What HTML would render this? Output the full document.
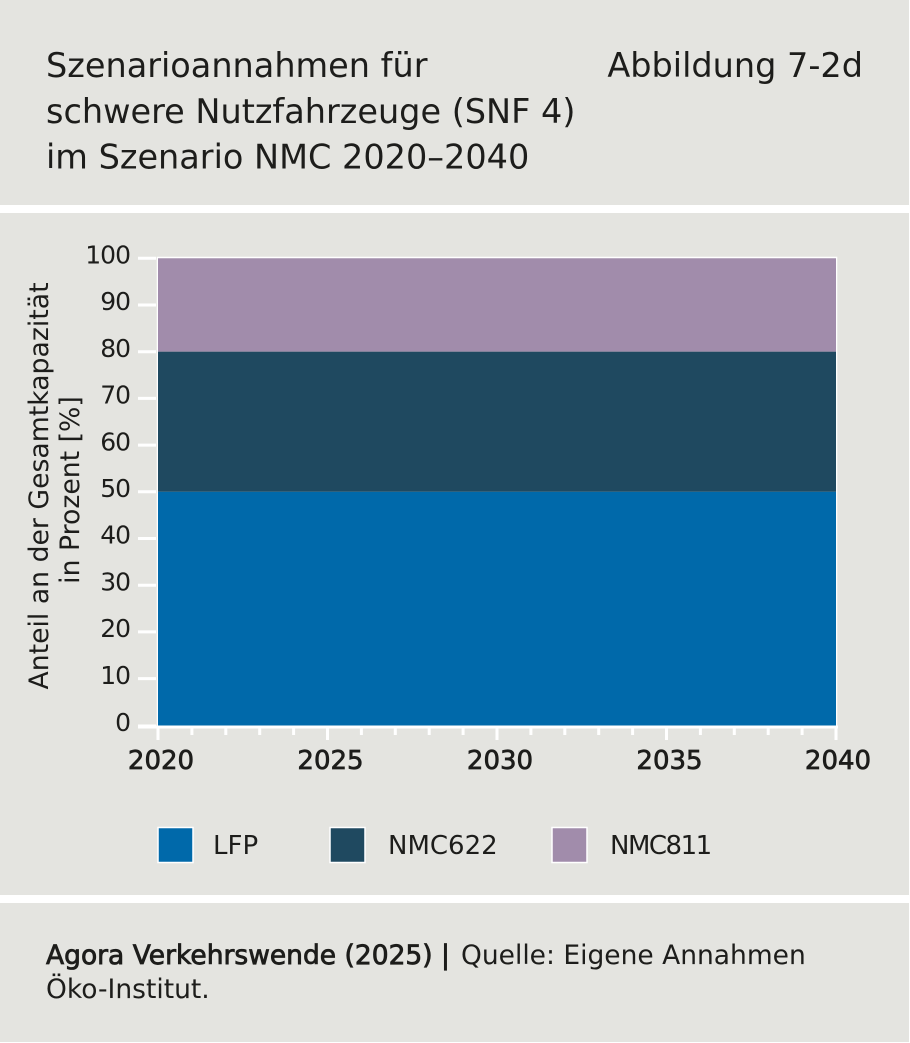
<!DOCTYPE html>
<html>
<head>
<meta charset="utf-8">
<style>
  html, body { margin: 0; padding: 0; background: #e4e4e0; }
  svg { display: block; }
  text { font-family: "DejaVu Sans", "Liberation Sans", sans-serif; fill: #1d1d1b; }
</style>
</head>
<body>
<svg width="910" height="1043" viewBox="0 0 910 1043" xmlns="http://www.w3.org/2000/svg">
  <rect x="0" y="0" width="910" height="1043" fill="#e4e4e0"/>
  <!-- separators -->
  <rect x="0" y="205" width="910" height="8" fill="#ffffff"/>
  <rect x="0" y="895" width="910" height="8" fill="#ffffff"/>
  <rect x="909" y="0" width="1" height="1043" fill="#ffffff"/>
  <rect x="0" y="1042" width="910" height="1" fill="#ffffff"/>

  <!-- title -->
  <text x="46" y="77" font-size="33.5">Szenarioannahmen für</text>
  <text x="46" y="123" font-size="33.5">schwere Nutzfahrzeuge (SNF 4)</text>
  <text x="46" y="168.5" font-size="33.5">im Szenario NMC 2020–2040</text>
  <text x="863" y="77" font-size="33.5" text-anchor="end">Abbildung 7-2d</text>

  <!-- y-axis label -->
  <text transform="translate(48,486) rotate(-90)" font-size="26.7" text-anchor="middle">Anteil an der Gesamtkapazität</text>
  <text transform="translate(79,490) rotate(-90)" font-size="26.7" text-anchor="middle">in Prozent [%]</text>

  <!-- plot areas -->
  <rect x="157.5" y="257.5" width="679" height="468.5" fill="none" stroke="#ffffff" stroke-width="1.5"/>
  <rect x="158" y="258.3" width="678" height="93.4" fill="#a18cab"/>
  <rect x="158" y="351.7" width="678" height="140.1" fill="#1f4960"/>
  <rect x="158" y="491.8" width="678" height="233.7" fill="#0069aa"/>

  <!-- axes baseline -->
  <line x1="138" y1="727" x2="838" y2="727" stroke="#ffffff" stroke-width="3"/>

  <!-- y ticks -->
  <g stroke="#ffffff" stroke-width="3">
    <line x1="138" y1="258.3" x2="156" y2="258.3"/>
    <line x1="138" y1="305" x2="156" y2="305"/>
    <line x1="138" y1="351.7" x2="156" y2="351.7"/>
    <line x1="138" y1="398.4" x2="156" y2="398.4"/>
    <line x1="138" y1="445.1" x2="156" y2="445.1"/>
    <line x1="138" y1="491.8" x2="156" y2="491.8"/>
    <line x1="138" y1="538.5" x2="156" y2="538.5"/>
    <line x1="138" y1="585.2" x2="156" y2="585.2"/>
    <line x1="138" y1="631.9" x2="156" y2="631.9"/>
    <line x1="138" y1="678.6" x2="156" y2="678.6"/>
    <line x1="138" y1="726" x2="156" y2="726"/>
  </g>

  <!-- y tick labels -->
  <g font-size="25" text-anchor="end" letter-spacing="-1">
    <text x="130" y="263.5">100</text>
    <text x="130" y="310.2">90</text>
    <text x="130" y="356.9">80</text>
    <text x="130" y="403.6">70</text>
    <text x="130" y="450.3">60</text>
    <text x="130" y="497">50</text>
    <text x="130" y="543.7">40</text>
    <text x="130" y="590.4">30</text>
    <text x="130" y="637.1">20</text>
    <text x="130" y="683.8">10</text>
    <text x="130" y="731">0</text>
  </g>

  <!-- x ticks -->
  <g stroke="#ffffff" stroke-width="3">
    <line x1="158" y1="727" x2="158" y2="740"/>
    <line x1="191.9" y1="727" x2="191.9" y2="735"/>
    <line x1="225.8" y1="727" x2="225.8" y2="735"/>
    <line x1="259.7" y1="727" x2="259.7" y2="735"/>
    <line x1="293.6" y1="727" x2="293.6" y2="735"/>
    <line x1="327.5" y1="727" x2="327.5" y2="740"/>
    <line x1="361.4" y1="727" x2="361.4" y2="735"/>
    <line x1="395.3" y1="727" x2="395.3" y2="735"/>
    <line x1="429.2" y1="727" x2="429.2" y2="735"/>
    <line x1="463.1" y1="727" x2="463.1" y2="735"/>
    <line x1="497" y1="727" x2="497" y2="740"/>
    <line x1="530.9" y1="727" x2="530.9" y2="735"/>
    <line x1="564.8" y1="727" x2="564.8" y2="735"/>
    <line x1="598.7" y1="727" x2="598.7" y2="735"/>
    <line x1="632.6" y1="727" x2="632.6" y2="735"/>
    <line x1="666.5" y1="727" x2="666.5" y2="740"/>
    <line x1="700.4" y1="727" x2="700.4" y2="735"/>
    <line x1="734.3" y1="727" x2="734.3" y2="735"/>
    <line x1="768.2" y1="727" x2="768.2" y2="735"/>
    <line x1="802.1" y1="727" x2="802.1" y2="735"/>
    <line x1="836" y1="727" x2="836" y2="740"/>
  </g>

  <!-- x tick labels -->
  <g font-size="26" text-anchor="middle" stroke="#1d1d1b" stroke-width="0.7">
    <text x="161" y="769">2020</text>
    <text x="330.5" y="769">2025</text>
    <text x="500" y="769">2030</text>
    <text x="669.5" y="769">2035</text>
    <text x="838" y="769">2040</text>
  </g>

  <!-- legend -->
  <rect x="158" y="827.5" width="35" height="35" fill="#0069aa" stroke="#ffffff" stroke-width="1.5"/>
  <text x="213" y="854" font-size="26">LFP</text>
  <rect x="330" y="827.5" width="35" height="35" fill="#1f4960" stroke="#ffffff" stroke-width="1.5"/>
  <text x="388" y="854" font-size="26">NMC622</text>
  <rect x="552" y="827.5" width="35" height="35" fill="#a18cab" stroke="#ffffff" stroke-width="1.5"/>
  <text x="610" y="854" font-size="26" letter-spacing="-1.5">NMC811</text>

  <!-- footer -->
  <text x="46" y="964" font-size="26.5"><tspan stroke="#1d1d1b" stroke-width="0.8">Agora Verkehrswende (2025) |</tspan><tspan x="461"> </tspan><tspan x="461">Quelle: Eigene Annahmen</tspan></text>
  <text x="46" y="998" font-size="26.5">Öko-Institut.</text>
</svg>
</body>
</html>
